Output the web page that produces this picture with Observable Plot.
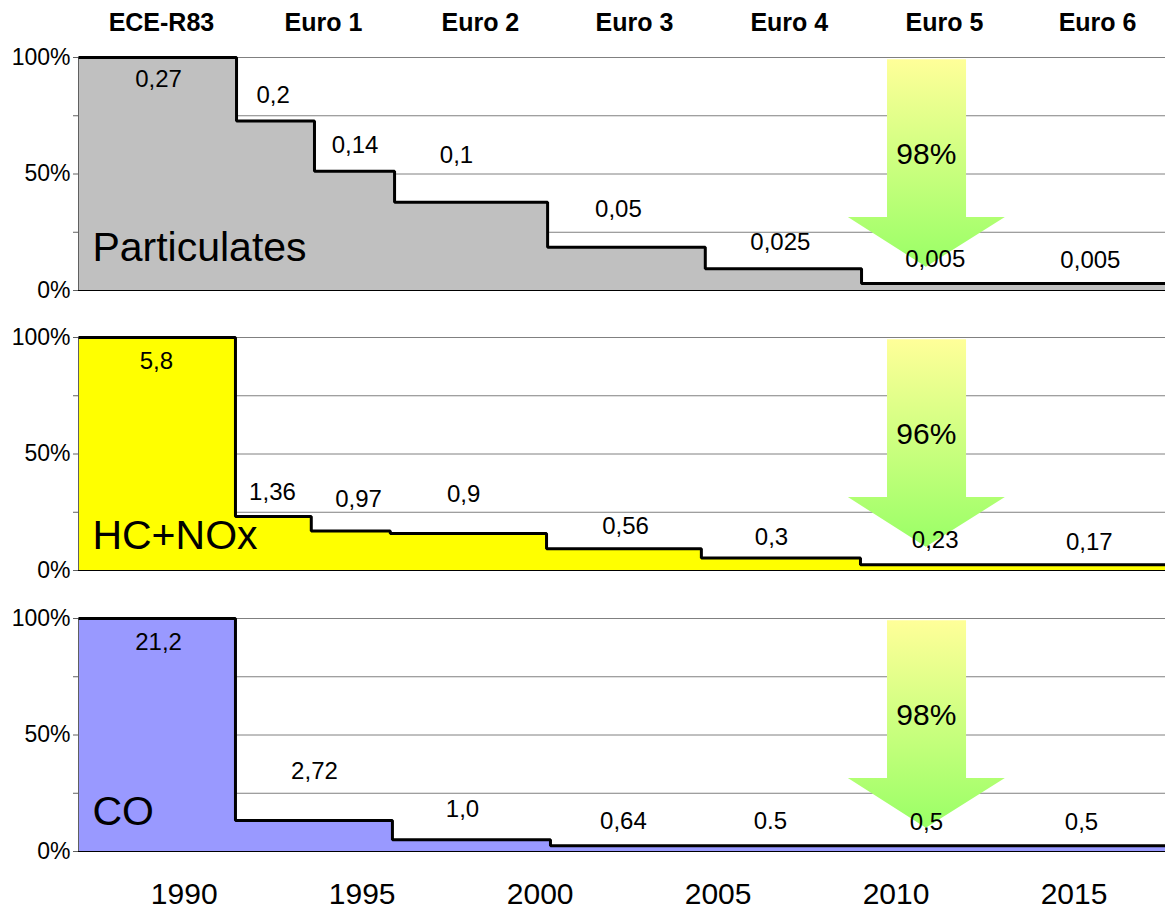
<!DOCTYPE html>
<html><head><meta charset="utf-8">
<script src="https://cdn.jsdelivr.net/npm/d3@7"></script>
<script src="https://cdn.jsdelivr.net/npm/@observablehq/plot@0.6"></script>
<style>
body{margin:0;background:#fff;}
#chart svg{display:block;}
</style></head><body><div id="chart"></div>
<script>
// ---- data ----
const xStart = 1987.03, xEnd = 2017.57;
const yearTicks = [1990, 1995, 2000, 2005, 2010, 2015];
const gridPct = [25, 50, 75, 100];
const axisPct = [0, 25, 50, 75, 100];

const stageNames = ["ECE-R83", "Euro 1", "Euro 2", "Euro 3", "Euro 4", "Euro 5", "Euro 6"];
const stageYears = [1989.36, 1993.91, 1998.32, 2002.65, 2007.0, 2011.36, 2015.66];

const pmName = "Particulates";
const pmYears = [1987.03, 1991.47, 1993.66, 1995.91, 2000.21, 2004.64, 2009.03];
const pmPct = [100, 72.7, 51.2, 37.9, 18.6, 9.3, 3.0];
const pmLabels = ["0,27", "0,2", "0,14", "0,1", "0,05", "0,025", "0,005", "0,005"];
const pmLabelYears = [1989.28, 1992.5, 1994.8, 1997.65, 2002.2, 2006.75, 2011.1, 2015.46];
const pmLabelPct = [90.5, 83.7, 62.2, 58.0, 34.7, 20.6, 13.5, 12.9];
const pmReduction = "98%";

const hcName = "HC+NOx";
const hcYears = [1987.03, 1991.44, 1993.57, 1995.79, 2000.18, 2004.53, 2009.0];
const hcPct = [100, 23.2, 16.9, 15.9, 9.3, 5.4, 2.5];
const hcLabels = ["5,8", "1,36", "0,97", "0,9", "0,56", "0,3", "0,23", "0,17"];
const hcLabelYears = [1989.22, 1992.48, 1994.9, 1997.85, 2002.4, 2006.5, 2011.1, 2015.43];
const hcLabelPct = [89.7, 33.5, 30.5, 32.6, 18.9, 14.2, 12.9, 12.0];
const hcReduction = "96%";

const coName = "CO";
const coYears = [1987.03, 1991.44, 1995.85, 2000.29];
const coPct = [100, 13.3, 5.0, 2.5];
const coLabels = ["21,2", "2,72", "1,0", "0,64", "0.5", "0,5", "0,5"];
const coLabelYears = [1989.28, 1993.66, 1997.82, 2002.34, 2006.47, 2010.85, 2015.21];
const coLabelPct = [89.7, 34.3, 18.0, 12.9, 12.9, 12.4, 12.4];
const coReduction = "98%";

const nameYear = 1987.42;
const namePct = [18.2, 15.0, 17.2];

// arrow outline in data units (year, percent)
const arrowPct = [99, 31.3, 31.3, 10];
const arrowLeft = [2009.76, 2009.76, 2008.66, 2010.85];
const arrowRight = [2011.98, 2011.98, 2013.07, 2010.85];
const arrowTextYear = 2010.85, arrowTextPct = 58.5;

const panels = [
  {name: pmName, years: pmYears, pct: pmPct, labels: pmLabels, ly: pmLabelYears, lp: pmLabelPct, red: pmReduction, fill: "#c0c0c0"},
  {name: hcName, years: hcYears, pct: hcPct, labels: hcLabels, ly: hcLabelYears, lp: hcLabelPct, red: hcReduction, fill: "#ffff00"},
  {name: coName, years: coYears, pct: coPct, labels: coLabels, ly: coLabelYears, lp: coLabelPct, red: coReduction, fill: "#9999ff"}
];

const font = "'Liberation Sans', Arial, Helvetica, sans-serif";
const margins = [[57, 24], [23, 24], [24, 57]];

panels.forEach((p, i) => {
  const steps = p.years.map((y, k) => ({x: y, y: p.pct[k]}));
  steps.push({x: xEnd, y: p.pct[p.pct.length - 1]});
  const arrow = arrowPct.map((v, k) => ({y: v, x1: arrowLeft[k], x2: arrowRight[k]}));
  const labels = p.labels.map((t, k) => ({t, x: p.ly[k], y: p.lp[k]}));
  const [mt, mb] = margins[i];
  const marks = [
    Plot.ruleY(gridPct, {stroke: "#808080", strokeWidth: 1}),
    Plot.areaY(steps, {x: "x", y: "y", curve: "step-after", fill: p.fill}),
    Plot.ruleY([0], {stroke: "#000", strokeWidth: 1}),
    Plot.ruleX([xStart], {y1: 0, y2: 100, stroke: "#606060", strokeWidth: 1}),
    Plot.line(steps, {x: "x", y: "y", curve: "step-after", stroke: "#000", strokeWidth: 3, strokeLinejoin: "miter", strokeLinecap: "butt"}),
    Plot.areaX(arrow, {y: "y", x1: "x1", x2: "x2", fill: `url(#arrowGrad${i})`, curve: "linear"}),
    Plot.text([p.red], {x: arrowTextYear, y: arrowTextPct, fontSize: 30, fill: "#000"}),
    Plot.text(labels, {x: "x", y: "y", text: "t", fontSize: 24, fill: "#000"}),
    Plot.text([p.name], {x: nameYear, y: namePct[i], textAnchor: "start", fontSize: 41, fill: "#000"}),
    Plot.axisY({ticks: axisPct, tickFormat: d => d % 50 === 0 ? d + "%" : "", tickSize: 5, tickPadding: 3, fontSize: 23, stroke: "#606060", label: null})
  ];
  if (i === 0) {
    marks.push(Plot.text(stageNames, {x: (d, k) => stageYears[k], y: 100, dy: -35, fontSize: 25, fontWeight: "bold", fill: "#000"}));
  }
  if (i === 2) {
    marks.push(Plot.axisX({ticks: yearTicks, tickFormat: d => String(d), tickSize: 0, tickPadding: 31, fontSize: 30, label: null}));
  }
  const svg = Plot.plot({
    width: 1165,
    height: mt + 233 + mb,
    marginTop: mt, marginBottom: mb, marginLeft: 78, marginRight: 0,
    style: {fontFamily: font, fontSize: "22px", color: "#000", background: "#fff", overflow: "visible"},
    x: {domain: [xStart, xEnd], axis: null},
    y: {domain: [0, 100], axis: null},
    marks
  });
  const defs = d3.select(svg).insert("defs", ":first-child");
  const grad = defs.append("linearGradient").attr("id", `arrowGrad${i}`)
    .attr("x1", 0).attr("y1", 0).attr("x2", 0).attr("y2", 1);
  grad.append("stop").attr("offset", "0%").attr("stop-color", "#ffff99");
  grad.append("stop").attr("offset", "100%").attr("stop-color", "#99ff66");
  document.getElementById("chart").appendChild(svg);
});
</script>
</body></html>
